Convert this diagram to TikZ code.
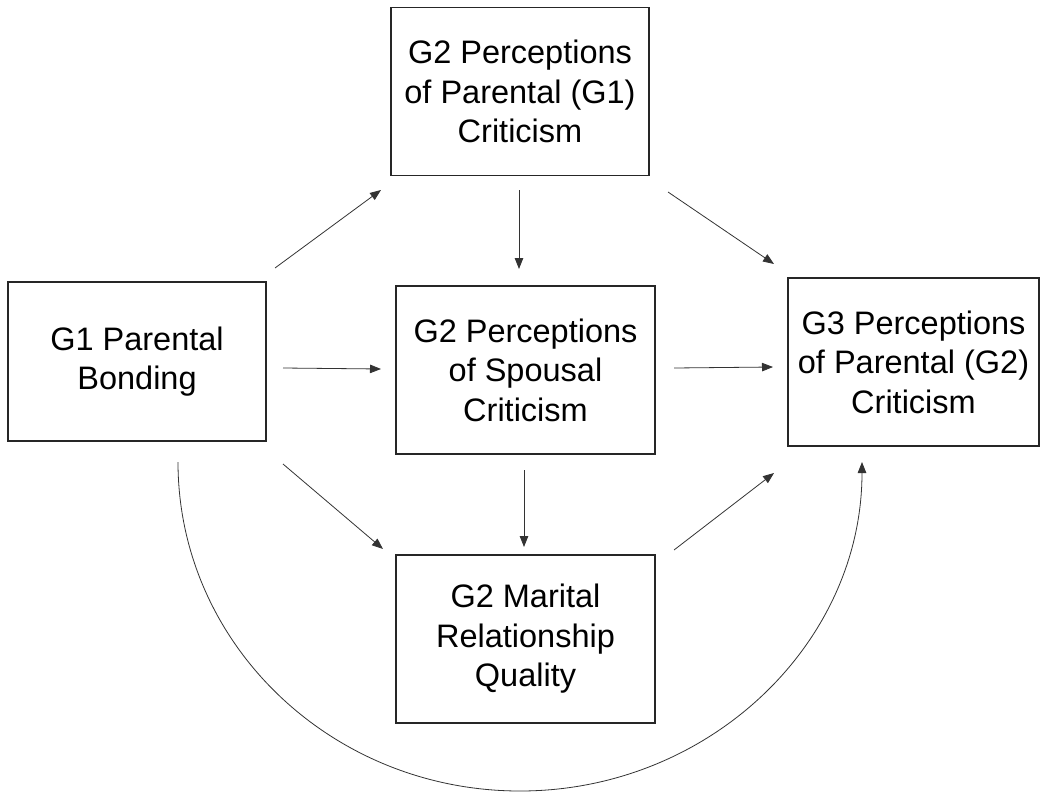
\documentclass[tikz,border=0pt]{standalone}
\usepackage{fontspec}
\setmainfont{Liberation Sans}
\usetikzlibrary{arrows.meta}
\begin{document}
\begin{tikzpicture}[x=1pt,y=-1pt,
  box/.style={draw=black!85,line width=1.3pt,rectangle,inner sep=0pt,align=center,
    font=\fontsize{32.5}{39.5}\selectfont},
  arr/.style={draw=black!80,line width=0.8pt,-{Triangle[length=11pt,width=8.5pt]}}]
\useasboundingbox (0,0) rectangle (1047,795);
\node[box,minimum width=258pt,minimum height=168pt] (top) at (520,91.5) {G2 Perceptions\\of Parental (G1)\\Criticism};
\node[box,minimum width=258pt,minimum height=159pt] (left) at (137,361.5) {G1 Parental\\Bonding};
\node[box,minimum width=259pt,minimum height=168pt] (mid) at (525.5,370) {G2 Perceptions\\of Spousal\\Criticism};
\node[box,minimum width=251pt,minimum height=168pt] (right) at (913.5,362) {G3 Perceptions\\of Parental (G2)\\Criticism};
\node[box,minimum width=259pt,minimum height=168pt] (bot) at (525.5,639) {G2 Marital\\Relationship\\Quality};
% connector end points
\coordinate (a1) at (275,268); \coordinate (a2) at (381,190);
\coordinate (b1) at (283,368); \coordinate (b2) at (381,369);
\coordinate (c1) at (283,464); \coordinate (c2) at (383,549);
\coordinate (d1) at (519,190); \coordinate (d2) at (519,269);
\coordinate (e1) at (668,192); \coordinate (e2) at (774,264);
\coordinate (f1) at (674,368); \coordinate (f2) at (773,367);
\coordinate (g1) at (524,470); \coordinate (g2) at (524,547);
\coordinate (h1) at (674,550); \coordinate (h2) at (774,473);
\coordinate (k1) at (178,462);
\draw[arr] (a1) -- (a2);
\draw[arr] (b1) -- (b2);
\draw[arr] (c1) -- (c2);
\draw[arr] (d1) -- (d2);
\draw[arr] (e1) -- (e2);
\draw[arr] (f1) -- (f2);
\draw[arr] (g1) -- (g2);
\draw[arr] (h1) -- (h2);
\draw[arr] (k1) arc[start angle=180,end angle=360,x radius=342pt,y radius=329pt];
\end{tikzpicture}
\end{document}
